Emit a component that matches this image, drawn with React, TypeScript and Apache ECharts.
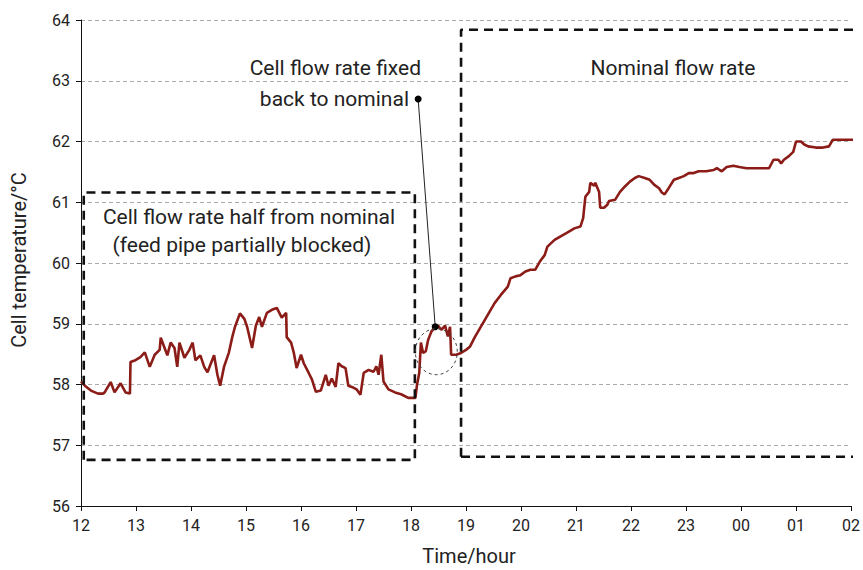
import React, { useEffect, useRef } from "react";
import * as echarts from "echarts";

// time in hours (12 = 12:00, 24 = 00:00 next day), cell temperature in °C
const times = [
  12.0, 12.07, 12.18, 12.31, 12.4, 12.43, 12.54, 12.61, 12.72, 12.81, 12.89, 12.9, 12.99, 13.08, 13.16, 13.25,
  13.34, 13.43, 13.45, 13.52, 13.57, 13.63, 13.7, 13.75, 13.79, 13.88, 13.97, 14.03, 14.08, 14.17, 14.24, 14.3,
  14.35, 14.42, 14.48, 14.53, 14.6, 14.69, 14.75, 14.8, 14.89, 14.97, 15.02, 15.11, 15.18, 15.24, 15.29, 15.38,
  15.47, 15.56, 15.65, 15.73, 15.74, 15.82, 15.87, 15.92, 16.0, 16.05, 16.14, 16.2, 16.27, 16.36, 16.45, 16.5,
  16.56, 16.63, 16.68, 16.74, 16.81, 16.86, 16.95, 17.01, 17.08, 17.14, 17.23, 17.32, 17.37, 17.41, 17.46, 17.5,
  17.59, 17.71, 17.82, 17.95, 18.08, 18.11, 18.15, 18.18, 18.22, 18.27, 18.31, 18.37, 18.44, 18.49, 18.55, 18.62,
  18.67, 18.71, 18.73, 18.82, 18.91, 19.0, 19.07, 19.16, 19.25, 19.34, 19.43, 19.52, 19.63, 19.76, 19.81, 19.9,
  19.99, 20.08, 20.17, 20.26, 20.34, 20.43, 20.48, 20.61, 20.72, 20.84, 20.97, 21.08, 21.13, 21.17, 21.24, 21.26,
  21.33, 21.35, 21.42, 21.44, 21.51, 21.57, 21.6, 21.71, 21.8, 21.89, 21.98, 22.07, 22.14, 22.25, 22.34, 22.42,
  22.51, 22.56, 22.61, 22.69, 22.78, 22.87, 22.96, 23.05, 23.14, 23.23, 23.37, 23.5, 23.56, 23.65, 23.74, 23.86,
  23.97, 24.1, 24.51, 24.59, 24.68, 24.73, 24.78, 24.87, 24.95, 25.0, 25.09, 25.15, 25.22, 25.36, 25.49, 25.6,
  25.67, 25.85, 26.03, 26.14,
];
const temps = [
  58.05, 57.98, 57.9, 57.85, 57.85, 57.87, 58.04, 57.87, 58.02, 57.87, 57.85, 58.37, 58.4, 58.45, 58.53, 58.29,
  58.49, 58.57, 58.77, 58.6, 58.48, 58.69, 58.6, 58.29, 58.69, 58.44, 58.57, 58.69, 58.4, 58.48, 58.29, 58.2,
  58.32, 58.48, 58.16, 57.98, 58.29, 58.53, 58.78, 58.95, 59.17, 59.08, 58.95, 58.6, 58.97, 59.11, 58.95, 59.18,
  59.23, 59.26, 59.1, 59.18, 58.78, 58.69, 58.52, 58.27, 58.49, 58.35, 58.19, 58.08, 57.88, 57.9, 58.16, 57.98,
  58.1, 57.96, 58.35, 58.3, 58.27, 57.98, 57.95, 57.92, 57.83, 58.19, 58.24, 58.21, 58.3, 58.16, 58.49, 58.05,
  57.92, 57.87, 57.84, 57.78, 57.78, 58.0, 58.19, 58.69, 58.52, 58.55, 58.73, 58.87, 58.95, 58.97, 58.9, 58.97,
  58.79, 58.95, 58.49, 58.49, 58.52, 58.57, 58.62, 58.78, 58.92, 59.06, 59.2, 59.34, 59.47, 59.61, 59.75, 59.78,
  59.8, 59.86, 59.89, 59.89, 60.02, 60.13, 60.27, 60.38, 60.44, 60.5, 60.57, 60.6, 60.74, 61.09, 61.17, 61.32,
  61.27, 61.32, 61.17, 60.91, 60.91, 60.96, 61.02, 61.04, 61.17, 61.26, 61.34, 61.4, 61.43, 61.4, 61.37, 61.29,
  61.23, 61.16, 61.13, 61.24, 61.37, 61.4, 61.43, 61.48, 61.48, 61.51, 61.51, 61.53, 61.56, 61.51, 61.58, 61.6,
  61.58, 61.56, 61.56, 61.7, 61.7, 61.64, 61.7, 61.76, 61.83, 62.0, 62.0, 61.95, 61.92, 61.9, 61.9, 61.92,
  62.03, 62.03, 62.03, 62.03,
];

const yTicks = [56, 57, 58, 59, 60, 61, 62, 63, 64];
const xStart = 12;
const xEnd = 26;

// annotation boxes [x0, x1, y0, y1]
const boxHalf = [12.05, 18.07, 56.76, 61.16];
const boxNominal = [18.91, 26.09, 56.81, 63.84];
// pointer from label to the restored point
const pointerFrom = [18.13, 62.7];
const pointerTo = [18.44, 58.95];
const ellipseCenter = [18.46, 58.54];

const FONT = "Roboto, 'DejaVu Sans', sans-serif";

function rectPoints(b: number[]) {
  return [
    [b[0], b[2]],
    [b[0], b[3]],
    [b[1], b[3]],
    [b[1], b[2]],
    [b[0], b[2]],
  ];
}

export default function App() {
  const ref = useRef<HTMLDivElement>(null);
  useEffect(() => {
    if (!ref.current) return;
    const chart = echarts.init(ref.current, null, { renderer: "svg" });
    const dashed = { color: "#111", width: 2.6, type: [9, 6] as any };
    chart.setOption({
      animation: false,
      grid: { left: 81, right: 7, top: 20, bottom: 64, containLabel: false },
      xAxis: {
        type: "value",
        min: xStart,
        max: xEnd,
        interval: 1,
        axisLine: { lineStyle: { color: "#111", width: 1 }, onZero: false },
        axisTick: { show: true, length: 5, lineStyle: { color: "#111" } },
        axisLabel: {
          color: "#222",
          fontFamily: FONT,
          fontSize: 16,
          margin: 11,
          formatter: (v: number) => String(v % 24).padStart(2, "0"),
        },
        splitLine: { show: false },
      },
      yAxis: {
        type: "value",
        min: yTicks[0],
        max: yTicks[yTicks.length - 1],
        interval: 1,
        axisLine: { show: true, lineStyle: { color: "#111", width: 1 } },
        axisTick: { show: true, length: 5, lineStyle: { color: "#111" } },
        axisLabel: { color: "#222", fontFamily: FONT, fontSize: 16, margin: 11 },
        splitLine: { show: true, lineStyle: { color: "#aaa", type: [4, 3], width: 1 } },
      },
      series: [
        {
          type: "line",
          data: times.map((t, i) => [t, temps[i]]),
          showSymbol: false,
          clip: false,
          lineStyle: { color: "#8b1c17", width: 2.6 },
          z: 3,
        },
        {
          type: "line",
          data: rectPoints(boxHalf),
          showSymbol: false,
          clip: false,
          lineStyle: dashed,
          z: 4,
        },
        {
          type: "line",
          data: rectPoints(boxNominal),
          showSymbol: false,
          clip: false,
          lineStyle: dashed,
          z: 4,
        },
        {
          type: "line",
          data: [pointerFrom, pointerTo],
          symbol: "circle",
          symbolSize: 7,
          showSymbol: true,
          itemStyle: { color: "#000" },
          clip: false,
          lineStyle: { color: "#222", width: 1 },
          z: 5,
        },
      ],
    });
    const c = chart.convertToPixel({ gridIndex: 0 }, ellipseCenter) as number[];
    const label = (text: string, x: number, y: number, align: string, size = 21) => ({
      type: "text",
      x,
      y,
      style: { text, fill: "#222", font: `${size}px ${FONT}`, align, verticalAlign: "middle" },
    });
    chart.setOption({
      graphic: [
        {
          type: "ellipse",
          shape: { cx: c[0], cy: c[1], rx: 21, ry: 23 },
          style: { fill: "none", stroke: "#444", lineWidth: 1, lineDash: [3, 3] },
          z: 6,
        },
        label("Cell flow rate fixed", 421, 68, "right"),
        label("back to nominal", 409, 99, "right"),
        label("Nominal flow rate", 673, 68, "center"),
        label("Cell flow rate half from nominal", 249, 217, "center"),
        label("(feed pipe partially blocked)", 242, 245, "center"),
        label("Time/hour", 469, 556, "center", 20),
        {
          type: "text",
          x: 19,
          y: 260,
          rotation: Math.PI / 2,
          style: { text: "Cell temperature/°C", fill: "#222", font: `20px ${FONT}`, align: "center", verticalAlign: "middle" },
        },
      ],
    });
    return () => chart.dispose();
  }, []);
  return (
    <div
      ref={ref}
      style={{ position: "fixed", left: 0, top: 0, width: 863, height: 570, background: "#fff" }}
    />
  );
}
